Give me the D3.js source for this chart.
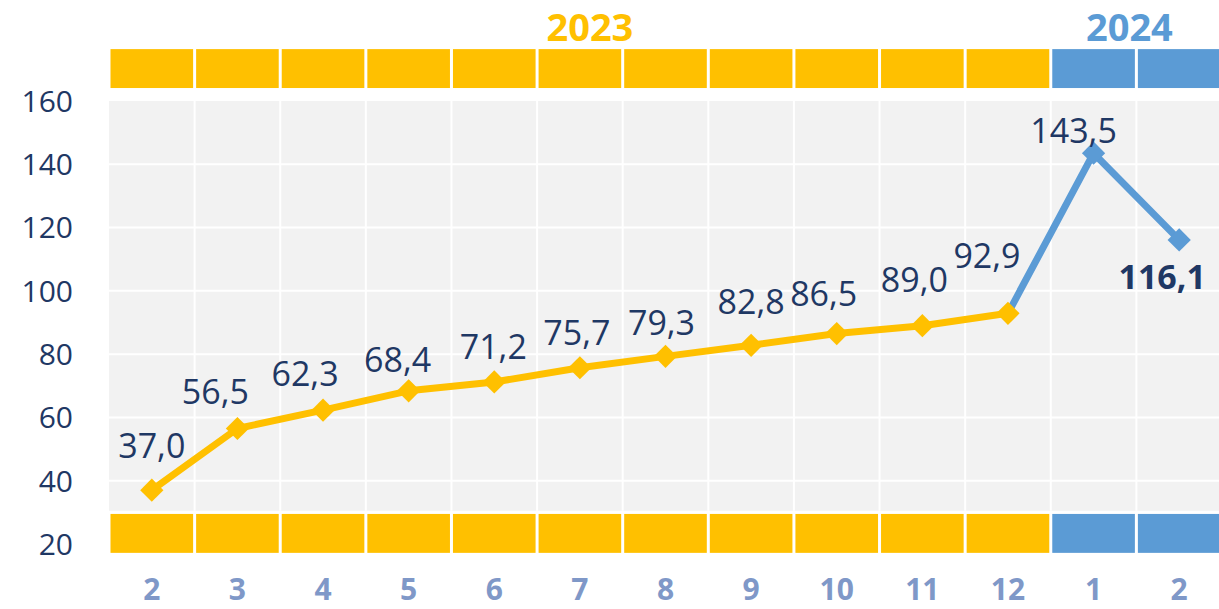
<!DOCTYPE html>
<html><head><meta charset="utf-8">
<script src="https://cdn.jsdelivr.net/npm/d3@7"></script>
<style>body{margin:0;background:#fff}svg{display:block}</style>
</head><body>
<svg id="c" width="1219" height="609"></svg>
<script>
const months = ["2","3","4","5","6","7","8","9","10","11","12","1","2"];
const years = ["2023","2023","2023","2023","2023","2023","2023","2023","2023","2023","2023","2024","2024"];
const values = [37.0,56.5,62.3,68.4,71.2,75.7,79.3,82.8,86.5,89.0,92.9,143.5,116.1];
const valueLabels = ["37,0","56,5","62,3","68,4","71,2","75,7","79,3","82,8","86,5","89,0","92,9","143,5","116,1"];
const yTicks = [20,40,60,80,100,120,140,160];
const yearNames = ["2023","2024"];

// label placement (pixels, relative to point)
const labelDx = [0,-22,-18,-11,-1,-3,-4,0,-13,-8,-21,-20,-17];
const labelDy = [-32,-25,-24,-19,-23,-23,-21,-31,-28,-34,-45,-10,49];

const YELLOW = "#FFC000", BLUE = "#5B9BD5", NAVY = "#1F3864", XLAB = "#7F98C8";
const color = y => y === "2023" ? YELLOW : BLUE;

const svg = d3.select("#c");
const x = d3.scaleBand().domain(d3.range(months.length)).range([109, 1222]).padding(0);
const y = d3.scaleLinear().domain([20,160]).range([544,101]);
const cx = i => x(i) + x.bandwidth()/2;

// plot background
svg.append("rect").attr("x", x.range()[0]).attr("y", y(160))
  .attr("width", 1219 - x.range()[0]).attr("height", y(30.5) - y(160)).attr("fill", "#F2F2F2");

// gridlines
svg.append("g").selectAll("line").data(yTicks.filter(t => t > 30 && t < 160)).join("line")
  .attr("x1", x.range()[0]).attr("x2", 1219).attr("y1", d => y(d)).attr("y2", d => y(d))
  .attr("stroke", "#fff").attr("stroke-width", 2);
svg.append("g").selectAll("line").data(d3.range(1, months.length)).join("line")
  .attr("x1", d => x(d)).attr("x2", d => x(d)).attr("y1", y(160)).attr("y2", y(30.5))
  .attr("stroke", "#fff").attr("stroke-width", 2);

// top and bottom month bands
function band(v0, v1) {
  svg.append("g").selectAll("rect").data(d3.range(months.length)).join("rect")
    .attr("x", i => x(i) + 1.5).attr("width", x.bandwidth() - 3)
    .attr("y", y(v1)).attr("height", y(v0) - y(v1))
    .attr("fill", i => color(years[i]));
}
band(164.1, 176.4);
band(17.2, 29.5);

// year labels
yearNames.forEach((yr, k) => {
  const idx = d3.range(months.length).filter(i => years[i] === yr);
  const mid = (x(idx[0]) + x(idx[idx.length-1]) + x.bandwidth())/2;
  svg.append("text").attr("x", mid + (k === 0 ? 10 : -7)).attr("y", 41)
    .attr("text-anchor", "middle").attr("font-family", "Open Sans").attr("font-weight", 700)
    .attr("font-size", 38).attr("fill", color(yr)).text(yr);
});

// y axis labels
svg.append("g").selectAll("text").data(yTicks).join("text")
  .attr("x", 73).attr("y", d => y(d)).attr("dy", "0.36em").attr("text-anchor", "end")
  .attr("font-family", "Open Sans").attr("font-size", 30).attr("fill", NAVY).text(d => d);

// x axis labels
svg.append("g").selectAll("text").data(months).join("text")
  .attr("x", (d, i) => cx(i)).attr("y", 600).attr("text-anchor", "middle")
  .attr("font-family", "Open Sans").attr("font-weight", 700).attr("font-size", 30)
  .attr("fill", XLAB).text(d => d);

// lines
const line = d3.line().x(i => cx(i)).y(i => y(values[i]));
const blueIdx = [10, 11, 12];
const yellowIdx = d3.range(0, 11);
svg.append("path").attr("d", line(blueIdx)).attr("fill", "none")
  .attr("stroke", BLUE).attr("stroke-width", 7).attr("stroke-linejoin", "round");
svg.append("path").attr("d", line(yellowIdx)).attr("fill", "none")
  .attr("stroke", YELLOW).attr("stroke-width", 7).attr("stroke-linejoin", "round");

// markers
const sym = d3.symbol().type(d3.symbolSquare).size(270);
svg.append("g").selectAll("path").data(d3.range(months.length)).join("path")
  .attr("d", sym).attr("transform", i => `translate(${cx(i)},${y(values[i])}) rotate(45)`)
  .attr("fill", i => color(years[i]));

// data labels
svg.append("g").selectAll("text").data(valueLabels).join("text")
  .attr("x", (d, i) => cx(i) + labelDx[i]).attr("y", (d, i) => y(values[i]) + labelDy[i])
  .attr("text-anchor", "middle").attr("font-family", "Open Sans").attr("font-size", 34)
  .attr("font-weight", (d, i) => i === values.length - 1 ? 700 : 400)
  .attr("fill", NAVY).text(d => d);
</script>
</body></html>
